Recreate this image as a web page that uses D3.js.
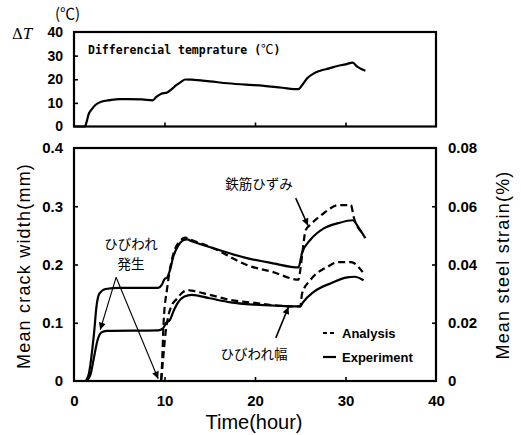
<!DOCTYPE html>
<html><head><meta charset="utf-8">
<script src="https://cdn.jsdelivr.net/npm/d3@7"></script>
<style>body{margin:0;background:#fff}svg{display:block}</style>
</head><body>
<script>
// ---- data ----
const tempT = [0,1.2,1.4,1.6,2,2.4,3,4,5,6,7.5,8.7,9.1,9.6,10.3,10.8,11.3,11.8,12.3,13,15,17,19,21,23,24.8,25.3,25.8,26.5,27.2,28.2,29.1,30,30.8,31.3,32.2];
const tempV = [0,0,2,5,7.5,9.2,10.5,11.2,11.6,11.6,11.5,11.1,12.5,13.8,14.4,15.8,17.5,18.8,19.9,19.8,19.1,18.3,17.7,17.2,16.4,15.8,18,20.5,22.5,23.6,24.6,25.6,26.3,27,25.3,23.6];

const steelExpT = [0,1.2,1.6,2.2,2.5,2.8,3.5,5,9.3,9.7,10.0,10.3,10.6,11,11.5,12,12.5,13,15.4,19.1,22,24.8,25.2,26.1,27.6,29.2,30.8,31.5,32.2];
const steelExpV = [0,0,0.01,0.08,0.13,0.15,0.158,0.16,0.16,0.165,0.175,0.178,0.19,0.215,0.232,0.241,0.243,0.24,0.228,0.211,0.202,0.195,0.22,0.242,0.262,0.271,0.276,0.262,0.245];

const steelAnaT = [0,9.6,9.7,9.9,10.3,10.7,11.2,11.7,12.3,13,15.4,19.1,22,24.8,25.0,25.2,25.6,26.1,27.6,29.2,30.6,30.9,31.9];
const steelAnaV = [0,0,0.02,0.1,0.16,0.2,0.228,0.24,0.246,0.242,0.228,0.199,0.187,0.174,0.19,0.215,0.259,0.268,0.288,0.302,0.302,0.282,0.254];

const crackExpT = [0,1.3,1.8,2.2,2.6,3,3.6,9.3,9.8,10.2,10.6,11,11.5,12.2,13,15,17.3,20,22.8,25,25.3,26.5,28.4,30.2,31,32];
const crackExpV = [0,0,0.01,0.04,0.07,0.083,0.086,0.087,0.09,0.1,0.105,0.12,0.135,0.145,0.148,0.142,0.135,0.131,0.129,0.128,0.135,0.153,0.168,0.178,0.179,0.173];

const crackAnaT = [0,9.6,9.8,10.1,10.4,10.8,11.3,12,12.5,13,15,17.3,20,22.8,25,25.2,26.1,28,29.2,30.6,31.9];
const crackAnaV = [0,0,0.03,0.08,0.11,0.13,0.14,0.152,0.156,0.155,0.148,0.139,0.134,0.129,0.128,0.15,0.173,0.196,0.204,0.204,0.187];

const xTicks = [0,10,20,30,40];
const tempTicks = [0,10,20,30,40];
const crackTicks = [0,0.1,0.2,0.3,0.4];
const strainTicks = [0,0.02,0.04,0.06,0.08];

// ---- layout ----
const W = 521, H = 435;
const L = 74, R = 436;
const svg = d3.select("body").append("svg").attr("width", W).attr("height", H);

const x = d3.scaleLinear().domain([0,40]).range([L,R]);
const yT = d3.scaleLinear().domain([0,40]).range([126.5,32]);
const yW = d3.scaleLinear().domain([0,0.4]).range([381,148]);
const yS = d3.scaleLinear().domain([0,0.08]).range([381,148]);

const fontSans = "'Liberation Sans', Arial, sans-serif";
const fontJP = "'Noto Sans CJK JP', sans-serif";

function styleAxis(g, size){
  g.select(".domain").remove();
  g.selectAll(".tick line").attr("stroke","#000").attr("stroke-width",1.6);
  g.selectAll(".tick text").attr("font-family",fontSans).attr("font-weight","bold").attr("font-size",size).attr("fill","#000");
}

// ---- top panel ----
const gTop = svg.append("g");
gTop.append("g").attr("transform",`translate(${L},0)`)
  .call(d3.axisLeft(yT).tickValues(tempTicks).tickSizeInner(-4).tickSizeOuter(0).tickPadding(11))
  .call(g=>styleAxis(g,14))
  .call(g=>g.selectAll(".tick").filter(d=>d===0||d===40).select("line").remove());
gTop.append("g").attr("transform",`translate(0,${yT(0)})`)
  .call(d3.axisBottom(x).tickValues([10,20,30]).tickSizeInner(-4).tickSizeOuter(0).tickFormat(""))
  .call(g=>styleAxis(g,14));
gTop.append("rect").attr("x",L).attr("y",yT(40)).attr("width",R-L).attr("height",yT(0)-yT(40))
  .attr("fill","none").attr("stroke","#000").attr("stroke-width",2.2);

const lineT = d3.line().x((d,i)=>x(tempT[i])).y(d=>yT(d)).curve(d3.curveMonotoneX);
gTop.append("path").attr("d",lineT(tempV)).attr("fill","none").attr("stroke","#000").attr("stroke-width",2.2);

const dtxt = gTop.append("text").attr("x",88).attr("y",54).attr("font-family","'DejaVu Sans Mono', monospace")
  .attr("font-weight","bold").attr("font-size",11.5);
dtxt.append("tspan").text("Differencial temprature (");
dtxt.append("tspan").attr("font-family",fontJP).attr("font-weight","normal").attr("font-size",12.5).text("℃");
dtxt.append("tspan").text(")");
const dT = gTop.append("text").attr("x",12).attr("y",39).attr("font-family","'DejaVu Serif', serif").attr("font-size",15);
dT.append("tspan").text("Δ");
dT.append("tspan").attr("font-style","italic").attr("font-family","'Liberation Serif', serif").attr("font-size",17).text("T");
gTop.append("text").attr("x",55).attr("y",19).attr("font-family",fontJP).attr("font-size",15).text("(℃)");

// ---- bottom panel ----
const gB = svg.append("g");
gB.append("g").attr("transform",`translate(${L},0)`)
  .call(d3.axisLeft(yW).tickValues(crackTicks).tickSizeInner(-4).tickSizeOuter(0).tickPadding(11).tickFormat(d=>d===0?"0":d3.format(".1f")(d)))
  .call(g=>styleAxis(g,15))
  .call(g=>g.selectAll(".tick").filter(d=>d===0||d===0.4).select("line").remove());
gB.append("g").attr("transform",`translate(${R},0)`)
  .call(d3.axisRight(yS).tickValues(strainTicks).tickSizeInner(-4).tickSizeOuter(0).tickPadding(12).tickFormat(d=>d===0?"0":d3.format(".2f")(d)))
  .call(g=>styleAxis(g,15))
  .call(g=>g.selectAll(".tick").filter(d=>d===0||d===0.08).select("line").remove());
gB.append("g").attr("transform",`translate(0,${yW(0)})`)
  .call(d3.axisBottom(x).tickValues(xTicks).tickSizeInner(-4).tickSizeOuter(0).tickPadding(14))
  .call(g=>styleAxis(g,15))
  .call(g=>g.selectAll(".tick").filter(d=>d===0||d===40).select("line").remove());
gB.append("rect").attr("x",L).attr("y",yW(0.4)).attr("width",R-L).attr("height",yW(0)-yW(0.4))
  .attr("fill","none").attr("stroke","#000").attr("stroke-width",2.2);

function drawLine(ts, vs, scale, dashed){
  const ln = d3.line().x((d,i)=>x(ts[i])).y(d=>scale(d)).curve(d3.curveMonotoneX);
  gB.append("path").attr("d",ln(vs)).attr("fill","none").attr("stroke","#000").attr("stroke-width",2.2)
    .attr("stroke-dasharray",dashed?"7,4":null);
}
drawLine(steelExpT, steelExpV.map(v=>v/5), yS, false);
drawLine(steelAnaT, steelAnaV.map(v=>v/5), yS, true);
drawLine(crackExpT, crackExpV, yW, false);
drawLine(crackAnaT, crackAnaV, yW, true);

// axis titles
gB.append("text").attr("transform","translate(30,266) rotate(-90)").attr("text-anchor","middle")
  .attr("font-family",fontSans).attr("font-size",18).attr("letter-spacing",1.2).text("Mean crack width(mm)");
gB.append("text").attr("transform","translate(509,265) rotate(-90)").attr("text-anchor","middle")
  .attr("font-family",fontSans).attr("font-size",18).attr("letter-spacing",1.2).text("Mean steel strain(%)");
gB.append("text").attr("x",254).attr("y",429).attr("text-anchor","middle")
  .attr("font-family",fontSans).attr("font-size",20).text("Time(hour)");

// legend
gB.append("line").attr("x1",323).attr("x2",336).attr("y1",333).attr("y2",333).attr("stroke","#000").attr("stroke-width",2.2).attr("stroke-dasharray","4,3");
gB.append("line").attr("x1",323).attr("x2",336).attr("y1",357).attr("y2",357).attr("stroke","#000").attr("stroke-width",2.2);
gB.append("text").attr("x",342).attr("y",338).attr("font-family",fontSans).attr("font-weight","bold").attr("font-size",13).text("Analysis");
gB.append("text").attr("x",342).attr("y",362).attr("font-family",fontSans).attr("font-weight","bold").attr("font-size",13).text("Experiment");

// annotations
const defs = svg.append("defs");
defs.append("marker").attr("id","ah").attr("viewBox","0 0 10 10").attr("refX",10).attr("refY",5)
  .attr("markerWidth",9).attr("markerHeight",7).attr("markerUnits","userSpaceOnUse").attr("orient","auto")
  .append("path").attr("d","M0,0 L10,5 L0,10 Z").attr("fill","#000");
function arrow(t1,w1,t2,w2,sw){
  gB.append("line").attr("x1",x(t1)).attr("y1",yW(w1)).attr("x2",x(t2)).attr("y2",yW(w2))
    .attr("stroke","#000").attr("stroke-width",sw).attr("marker-end","url(#ah)");
}
arrow(4.65,0.178,2.9,0.088,1.1);
arrow(4.65,0.178,9.3,0.004,1.1);
arrow(24.5,0.314,25.85,0.267,1.6);
arrow(22.3,0.074,23.7,0.127,1.6);

function jp(txt,cx,cy){
  gB.append("text").attr("x",cx).attr("y",cy).attr("text-anchor","middle").attr("dominant-baseline","central")
    .attr("font-family",fontJP).attr("font-size",13.5).text(txt);
}
jp("ひびわれ",131,243);
jp("発生",131,263);
jp("鉄筋ひずみ",259,183);
jp("ひびわれ幅",254,353);
</script>
</body></html>
